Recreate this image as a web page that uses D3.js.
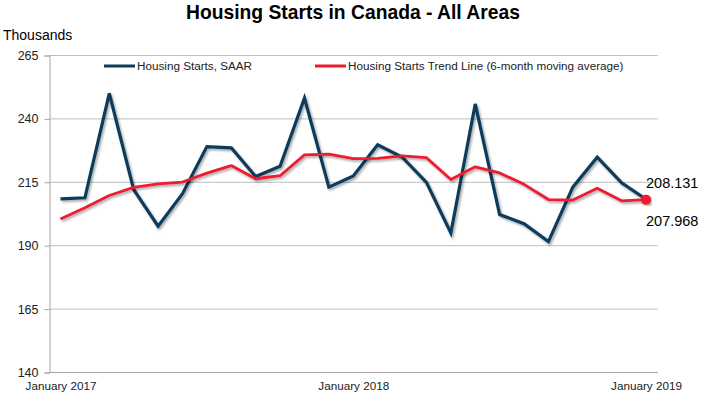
<!DOCTYPE html>
<html>
<head>
<meta charset="utf-8">
<script src="https://cdn.jsdelivr.net/npm/d3@7"></script>
<style>
  html, body { margin: 0; padding: 0; background: #fff; }
  svg { display: block; font-family: "Liberation Sans", Arial, sans-serif; }
</style>
</head>
<body>
<svg id="chart" width="704" height="396"></svg>
<script>
const months = ["Jan 2017","Feb 2017","Mar 2017","Apr 2017","May 2017","Jun 2017","Jul 2017","Aug 2017","Sep 2017","Oct 2017","Nov 2017","Dec 2017",
                "Jan 2018","Feb 2018","Mar 2018","Apr 2018","May 2018","Jun 2018","Jul 2018","Aug 2018","Sep 2018","Oct 2018","Nov 2018","Dec 2018","Jan 2019"];
const startsSAAR = [208.3, 208.7, 249.9, 211.9, 197.5, 210.3, 228.9, 228.4, 217.1, 221.1, 248.0, 212.9,
                    217.3, 229.6, 224.8, 214.8, 194.8, 245.7, 202.1, 198.5, 191.4, 212.9, 224.7, 214.6, 208.131];
const trendLine = [200.3, 204.8, 209.6, 212.8, 214.2, 214.9, 218.4, 221.4, 216.2, 217.4, 225.6, 225.9,
                   224.1, 224.2, 225.2, 224.5, 215.9, 220.9, 218.5, 214.0, 208.0, 207.8, 212.5, 207.5, 207.968];
const xTickLabels = ["January 2017", "January 2018", "January 2019"];
const xTickMonths = ["Jan 2017", "Jan 2018", "Jan 2019"];
const yTicks = [140, 165, 190, 215, 240, 265];
const seriesNames = ["Housing Starts, SAAR", "Housing Starts Trend Line (6-month moving average)"];
const endLabels = ["208.131", "207.968"];

const svg = d3.select("#chart");
const plotLeft = 49, plotRight = 658, plotTop = 55, plotBottom = 372;

const x = d3.scalePoint().domain(months).range([60.5, 646]);
const y = d3.scaleLinear().domain([140, 265]).range([plotBottom, plotTop]);

const defs = svg.append("defs");
const f = defs.append("filter").attr("id", "shadow").attr("x", "-10%").attr("y", "-10%").attr("width", "120%").attr("height", "120%");
f.append("feDropShadow").attr("dx", 1.5).attr("dy", 1.8).attr("stdDeviation", 1)
  .attr("flood-color", "#000").attr("flood-opacity", 0.35);

// Title
svg.append("text").attr("x", 353).attr("y", 19).attr("text-anchor", "middle")
  .attr("font-size", 19.3).attr("font-weight", "bold").attr("fill", "#000")
  .text("Housing Starts in Canada - All Areas");

svg.append("text").attr("x", 3).attr("y", 40).attr("font-size", 14).attr("fill", "#000").text("Thousands");

// Gridlines
svg.append("g").selectAll("line").data(yTicks.filter(d => d > 140)).join("line")
  .attr("x1", plotLeft).attr("x2", plotRight)
  .attr("y1", d => y(d) + 0.5).attr("y2", d => y(d) + 0.5)
  .attr("stroke", "#bfbfbf").attr("stroke-width", 1);

// Y axis
const yAxis = d3.axisLeft(y).tickValues(yTicks).tickSize(5).tickPadding(6).tickFormat(d3.format("d"));
const gy = svg.append("g").attr("transform", `translate(${plotLeft + 0.5},0.5)`).call(yAxis);
gy.select(".domain").attr("stroke", "#a6a6a6");
gy.selectAll(".tick line").attr("stroke", "#a6a6a6");
gy.selectAll(".tick text").attr("font-size", 12.5).attr("fill", "#222").attr("font-family", "Liberation Sans, Arial, sans-serif");

// X axis baseline
svg.append("line").attr("x1", plotLeft).attr("x2", plotRight)
  .attr("y1", plotBottom + 0.5).attr("y2", plotBottom + 0.5).attr("stroke", "#a6a6a6");

// X labels
const xAxis = d3.axisBottom(x).tickValues(xTickMonths).tickSize(0).tickPadding(10)
  .tickFormat((d, i) => xTickLabels[i]);
const gx = svg.append("g").attr("transform", `translate(0,${plotBottom})`).call(xAxis);
gx.select(".domain").remove();
gx.selectAll(".tick text").attr("font-size", 11.7).attr("fill", "#222").attr("font-family", "Liberation Sans, Arial, sans-serif");

// Lines
const line = d3.line().x((d, i) => x(months[i])).y(d => y(d)).curve(d3.curveLinear);
svg.append("path").datum(startsSAAR).attr("d", line).attr("fill", "none")
  .attr("stroke", "#0d3b5c").attr("stroke-width", 3.2).attr("stroke-linejoin", "miter")
  .attr("filter", "url(#shadow)");
svg.append("path").datum(trendLine).attr("d", line).attr("fill", "none")
  .attr("stroke", "#ee1a2f").attr("stroke-width", 2.8).attr("stroke-linejoin", "round")
  .attr("filter", "url(#shadow)");

// End marker
const last = months.length - 1;
svg.append("circle").attr("cx", x(months[last])).attr("cy", y(trendLine[last])).attr("r", 5)
  .attr("fill", "#ee1a2f").attr("filter", "url(#shadow)");

// End labels
svg.append("text").attr("x", x(months[last])).attr("y", y(startsSAAR[last]) - 11)
  .attr("font-size", 14.5).attr("fill", "#000").text(endLabels[0]);
svg.append("text").attr("x", x(months[last])).attr("y", y(trendLine[last]) + 26)
  .attr("font-size", 14.5).attr("fill", "#000").text(endLabels[1]);

// Legend
const legend = [
  { name: seriesNames[0], color: "#0d3b5c", x: 104 },
  { name: seriesNames[1], color: "#ee1a2f", x: 315 }
];
const lg = svg.append("g").selectAll("g").data(legend).join("g")
  .attr("transform", d => `translate(${d.x},66)`);
lg.append("line").attr("x1", 0).attr("x2", 31).attr("y1", 0).attr("y2", 0)
  .attr("stroke", d => d.color).attr("stroke-width", 3);
lg.append("text").attr("x", 33).attr("y", 4).attr("font-size", 11.7).attr("fill", "#222")
  .text(d => d.name);
</script>
</body>
</html>
